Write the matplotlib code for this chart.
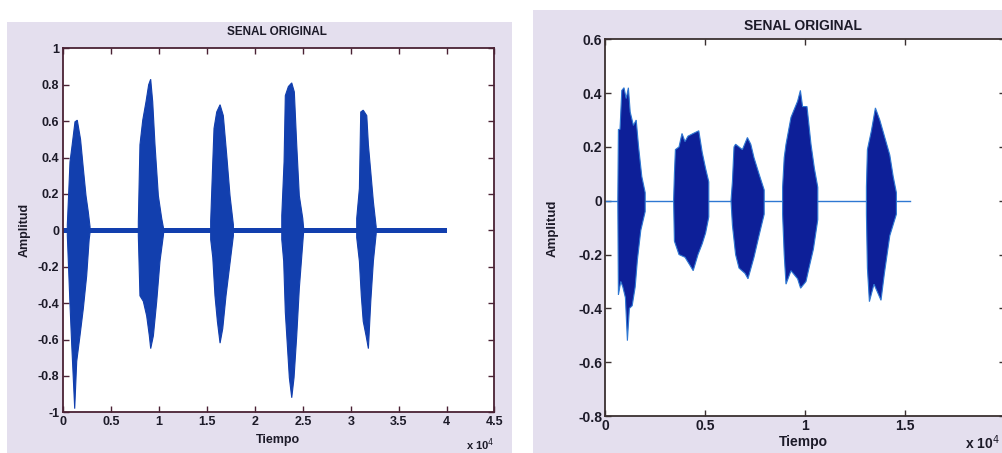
import numpy as np
import matplotlib
matplotlib.use("Agg")
import matplotlib.pyplot as plt
from matplotlib.patches import Rectangle

plt.rcParams['font.family'] = ['Liberation Sans', 'DejaVu Sans']

# ---- left chart: bursts (x in 1e4 samples), envelopes
L1_XT = [0.042, 0.07, 0.088, 0.122, 0.146, 0.18, 0.209, 0.237, 0.261, 0.279]
L1_TOP = [0.03, 0.376, 0.45, 0.596, 0.605, 0.50, 0.34, 0.19, 0.10, 0.02]
L1_XB = [0.042, 0.07, 0.088, 0.104, 0.119, 0.14, 0.174, 0.209, 0.244, 0.27, 0.28]
L1_BOT = [-0.03, -0.41, -0.63, -0.81, -0.98, -0.72, -0.58, -0.43, -0.25, -0.05, -0.01]

L2_XT = [0.783, 0.80, 0.829, 0.863, 0.891, 0.912, 0.933, 0.957, 0.992, 1.027, 1.05]
L2_TOP = [0.047, 0.47, 0.605, 0.706, 0.80, 0.83, 0.706, 0.47, 0.19, 0.065, 0.0]
L2_XB = [0.783, 0.80, 0.835, 0.87, 0.898, 0.912, 0.94, 0.975, 1.009, 1.044]
L2_BOT = [-0.03, -0.36, -0.39, -0.47, -0.58, -0.65, -0.58, -0.39, -0.17, -0.03]

L3_XT = [1.538, 1.56, 1.573, 1.601, 1.636, 1.67, 1.706, 1.74, 1.775]
L3_TOP = [0.05, 0.376, 0.56, 0.65, 0.69, 0.63, 0.41, 0.19, 0.03]
L3_XB = [1.538, 1.56, 1.583, 1.608, 1.636, 1.664, 1.698, 1.733, 1.775]
L3_BOT = [-0.05, -0.15, -0.36, -0.50, -0.62, -0.54, -0.36, -0.21, -0.03]

L4_XT = [2.28, 2.304, 2.317, 2.349, 2.384, 2.411, 2.436, 2.463, 2.499, 2.51]
L4_TOP = [0.08, 0.376, 0.74, 0.79, 0.81, 0.76, 0.47, 0.19, 0.065, 0.0]
L4_XB = [2.28, 2.30, 2.317, 2.338, 2.359, 2.384, 2.408, 2.436, 2.463, 2.505]
L4_BOT = [-0.05, -0.17, -0.45, -0.63, -0.81, -0.92, -0.81, -0.58, -0.32, -0.03]

L5_XT = [3.062, 3.09, 3.104, 3.13, 3.167, 3.184, 3.209, 3.236, 3.265]
L5_TOP = [0.065, 0.23, 0.65, 0.66, 0.63, 0.47, 0.32, 0.157, 0.02]
L5_XB = [3.062, 3.09, 3.11, 3.13, 3.16, 3.184, 3.209, 3.236, 3.265]
L5_BOT = [-0.04, -0.17, -0.36, -0.50, -0.58, -0.65, -0.39, -0.17, -0.02]

L_BASE_X = [0.0, 4.0]
L_BASE_TOP = 0.013
L_BASE_BOT = -0.016

# ---- right chart
R1_XT = [0.064, 0.067, 0.075, 0.084, 0.095, 0.106, 0.117, 0.126, 0.142, 0.156, 0.168, 0.184, 0.201]
R1_TOP = [0.0, 0.265, 0.265, 0.41, 0.42, 0.38, 0.42, 0.33, 0.28, 0.30, 0.20, 0.09, 0.03]
R1_XB = [0.064, 0.067, 0.079, 0.089, 0.102, 0.112, 0.122, 0.136, 0.151, 0.162, 0.179, 0.201]
R1_BOT = [0.0, -0.35, -0.30, -0.32, -0.36, -0.52, -0.40, -0.39, -0.32, -0.22, -0.11, -0.04]

R2_XT = [0.343, 0.347, 0.352, 0.370, 0.385, 0.400, 0.415, 0.441, 0.469, 0.486, 0.503, 0.519]
R2_TOP = [0.0, 0.10, 0.19, 0.20, 0.25, 0.22, 0.24, 0.25, 0.26, 0.18, 0.12, 0.07]
R2_XB = [0.343, 0.347, 0.370, 0.400, 0.425, 0.441, 0.465, 0.486, 0.503, 0.519]
R2_BOT = [0.0, -0.15, -0.20, -0.21, -0.24, -0.26, -0.20, -0.16, -0.12, -0.06]

R3_XT = [0.630, 0.637, 0.645, 0.653, 0.687, 0.712, 0.729, 0.745, 0.770, 0.796]
R3_TOP = [0.0, 0.07, 0.20, 0.21, 0.19, 0.235, 0.21, 0.16, 0.10, 0.04]
R3_XB = [0.630, 0.637, 0.653, 0.670, 0.700, 0.715, 0.745, 0.770, 0.796]
R3_BOT = [0.0, -0.09, -0.20, -0.25, -0.27, -0.29, -0.21, -0.13, -0.05]

R4_XT = [0.888, 0.896, 0.905, 0.930, 0.963, 0.977, 0.988, 1.010, 1.030, 1.047, 1.064]
R4_TOP = [0.05, 0.16, 0.21, 0.31, 0.37, 0.41, 0.35, 0.35, 0.21, 0.12, 0.05]
R4_XB = [0.888, 0.896, 0.905, 0.930, 0.963, 0.978, 1.005, 1.020, 1.042, 1.064]
R4_BOT = [-0.05, -0.20, -0.31, -0.26, -0.29, -0.325, -0.30, -0.25, -0.18, -0.07]

R5_XT = [1.307, 1.312, 1.332, 1.352, 1.374, 1.399, 1.424, 1.441, 1.457]
R5_TOP = [0.05, 0.19, 0.26, 0.345, 0.30, 0.235, 0.17, 0.09, 0.03]
R5_XB = [1.307, 1.312, 1.322, 1.345, 1.380, 1.397, 1.424, 1.457]
R5_BOT = [-0.05, -0.25, -0.375, -0.31, -0.37, -0.27, -0.13, -0.05]

R_BASE_X = [0.0, 1.524]
R_BASE_Y = [0.0, 0.0]

L_XTICKS = [0, 0.5, 1, 1.5, 2, 2.5, 3, 3.5, 4, 4.5]
L_XLABELS = ["0", "0.5", "1", "1.5", "2", "2.5", "3", "3.5", "4", "4.5"]
L_YTICKS = [-1, -0.8, -0.6, -0.4, -0.2, 0, 0.2, 0.4, 0.6, 0.8, 1]
L_YLABELS = ["-1", "-0.8", "-0.6", "-0.4", "-0.2", "0", "0.2", "0.4", "0.6", "0.8", "1"]
R_XTICKS = [0, 0.5, 1, 1.5, 2]
R_XLABELS = ["0", "0.5", "1", "1.5", "2"]
R_YTICKS = [-0.8, -0.6, -0.4, -0.2, 0, 0.2, 0.4, 0.6]
R_YLABELS = ["-0.8", "-0.6", "-0.4", "-0.2", "0", "0.2", "0.4", "0.6"]

W, H = 1003, 453
PANEL = '#e4dfee'
TXT = '#1c1a28'

fig = plt.figure(figsize=(W / 100, H / 100), dpi=100, facecolor='white')
fig.patches.append(Rectangle((7 / W, 0), 505 / W, 431 / H, transform=fig.transFigure,
                             facecolor=PANEL, edgecolor='none', zorder=-10))
fig.patches.append(Rectangle((533 / W, 0), 470 / W, 443 / H, transform=fig.transFigure,
                             facecolor=PANEL, edgecolor='none', zorder=-10))


def burst(ax, xt, yt, xb, yb, color, edge=None):
    xs = np.concatenate([xt, xb[::-1]])
    ys = np.concatenate([yt, yb[::-1]])
    ax.fill(xs, ys, color=color, lw=0.8, ec=edge if edge else color, zorder=3)


def style(ax, spine, size, weight, pad):
    for s in ax.spines.values():
        s.set_color(spine)
        s.set_linewidth(1.3)
    ax.tick_params(direction='in', length=4, width=1.0, color=spine, pad=pad,
                   top=True, right=True, labelsize=size, labelcolor=TXT)
    for lab in ax.get_xticklabels() + ax.get_yticklabels():
        lab.set_fontweight(weight)


# ---- left axes
axl = fig.add_axes([63.3 / W, 1 - 412.3 / H, 431.2 / W, 364 / H])
blue_l = '#123fae'
axl.fill_between(L_BASE_X, [L_BASE_BOT] * 2, [L_BASE_TOP] * 2, color=blue_l, lw=0, zorder=2)
burst(axl, L1_XT, L1_TOP, L1_XB, L1_BOT, blue_l)
burst(axl, L2_XT, L2_TOP, L2_XB, L2_BOT, blue_l)
burst(axl, L3_XT, L3_TOP, L3_XB, L3_BOT, blue_l)
burst(axl, L4_XT, L4_TOP, L4_XB, L4_BOT, blue_l)
burst(axl, L5_XT, L5_TOP, L5_XB, L5_BOT, blue_l)
axl.set_xlim(0, 4.5)
axl.set_ylim(-1, 1)
axl.set_xticks(L_XTICKS, L_XLABELS)
axl.set_yticks(L_YTICKS, L_YLABELS)
style(axl, '#4a2234', 9, 'bold', 3)

fig.text(277 / W, 1 - 32 / H, "SENAL ORIGINAL", ha='center', va='center',
         fontsize=8.5, fontweight='bold', color=TXT)
fig.text(278 / W, 1 - 440 / H, "Tiempo", ha='center', va='center',
         fontsize=9, fontweight='bold', color=TXT)
fig.text(25 / W, 1 - 230 / H, "Amplitud", ha='center', va='center', rotation=90,
         fontsize=9, fontweight='bold', color=TXT)
fig.text(466 / W, 1 - 445 / H, r"x 10$^{4}$", ha='left', va='center',
         fontsize=8, fontweight='bold', color=TXT)

# ---- right axes
axr = fig.add_axes([605 / W, 1 - 416 / H, 400 / W, 376.7 / H])
dark_r = '#0d1f98'
light_r = '#2f78d2'
axr.plot(R_BASE_X, R_BASE_Y, color=light_r, lw=1.0, zorder=2)
burst(axr, R1_XT, R1_TOP, R1_XB, R1_BOT, dark_r, light_r)
burst(axr, R2_XT, R2_TOP, R2_XB, R2_BOT, dark_r, light_r)
burst(axr, R3_XT, R3_TOP, R3_XB, R3_BOT, dark_r, light_r)
burst(axr, R4_XT, R4_TOP, R4_XB, R4_BOT, dark_r, light_r)
burst(axr, R5_XT, R5_TOP, R5_XB, R5_BOT, dark_r, light_r)
axr.set_xlim(0, 2)
axr.set_ylim(-0.8, 0.6)
axr.set_xticks(R_XTICKS, R_XLABELS)
axr.set_yticks(R_YTICKS, R_YLABELS)
style(axr, '#3a3030', 10, 'bold', 2)

fig.text(803 / W, 1 - 26 / H, "SENAL ORIGINAL", ha='center', va='center',
         fontsize=10, fontweight='bold', color=TXT)
fig.text(803 / W, 1 - 442 / H, "Tiempo", ha='center', va='center',
         fontsize=10, fontweight='bold', color=TXT)
fig.text(553 / W, 1 - 228 / H, "Amplitud", ha='center', va='center', rotation=90,
         fontsize=9.5, fontweight='bold', color=TXT)
fig.text(965 / W, 1 - 443 / H, r"x 10$^{4}$", ha='left', va='center',
         fontsize=10, fontweight='bold', color=TXT)

fig.savefig("out.png", dpi=100, facecolor='white')
